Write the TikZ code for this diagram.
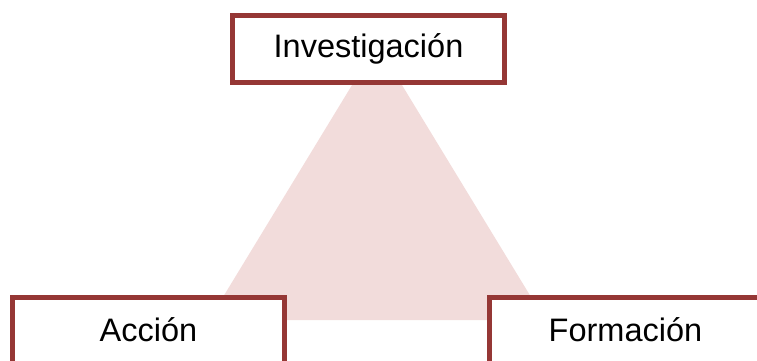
\documentclass[tikz,border=0pt]{standalone}
\usepackage{fontspec}
\setmainfont{Liberation Sans}
\definecolor{boxred}{HTML}{953735}
\definecolor{trifill}{HTML}{F2DCDB}

\begin{document}
\begin{tikzpicture}[x=0.02cm,y=-0.02cm,
	eje/.style={draw=boxred,line width=2.8pt,fill=white,
		minimum width=5.44cm,minimum height=1.34cm,inner sep=0pt,
		font=\fontsize{18.5}{22}\selectfont}]
\useasboundingbox (0,0) rectangle (757,360);
\clip (0,0) rectangle (757,360);

% triangle behind the boxes
\coordinate (t1) at (377,44);
\coordinate (t2) at (209,320);
\coordinate (t3) at (545,320);
\fill[trifill] (t1) -- (t2) -- (t3) -- cycle;

\node[eje] (inv) at (368.5,49) {Investigación};
\node[eje] (acc) at (148.5,331) {\raisebox{2pt}{Acción}};
\node[eje] (for) at (625.5,331) {\raisebox{2pt}{Formación}};

\end{tikzpicture}
\end{document}
